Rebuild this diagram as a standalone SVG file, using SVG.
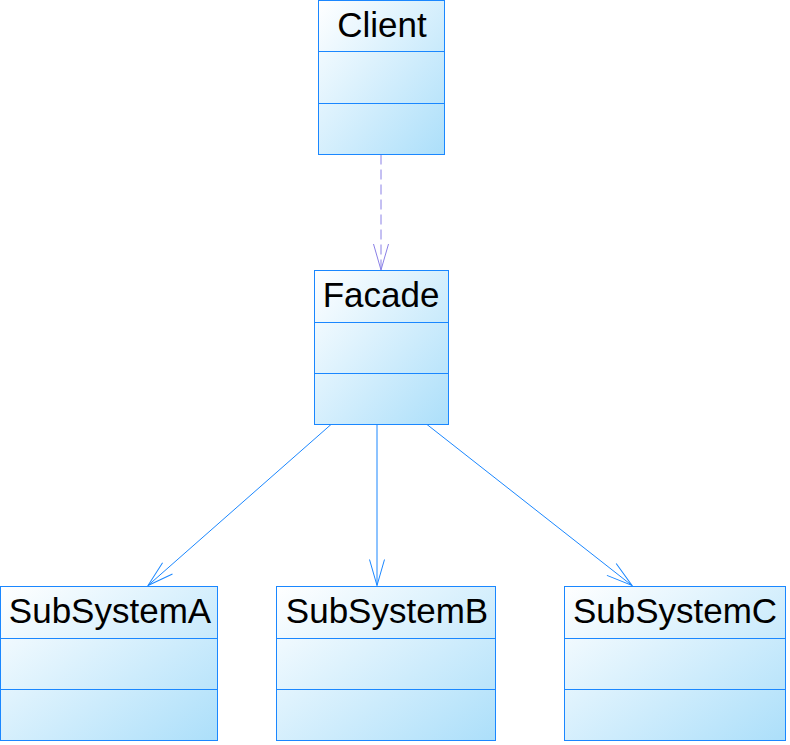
<svg xmlns="http://www.w3.org/2000/svg" width="790" height="745" viewBox="0 0 790 745">
<defs>
<linearGradient id="g" x1="0" y1="0" x2="1" y2="1">
<stop offset="0" stop-color="#FFFFFF"/>
<stop offset="1" stop-color="#ACDFFA"/>
</linearGradient>
<marker id="ah" markerUnits="userSpaceOnUse" markerWidth="40" markerHeight="30" viewBox="-30 -15 40 30" refX="0" refY="0" orient="auto" overflow="visible">
<path d="M-26,-7.5 L0,0 L-26,7.5" fill="none" stroke="#1A87FF" stroke-width="1"/>
</marker>
<marker id="ahd" markerUnits="userSpaceOnUse" markerWidth="40" markerHeight="30" viewBox="-30 -15 40 30" refX="0" refY="0" orient="auto" overflow="visible">
<path d="M-26,-7.5 L0,0 L-26,7.5" fill="none" stroke="#8A80E6" stroke-width="1"/>
</marker>
</defs>
<style>
.box{fill:url(#g);stroke:#1A87FF;stroke-width:1}
.div{stroke:#1A87FF;stroke-width:1}
.t{font-family:"Liberation Sans",Arial,sans-serif;font-size:35px;fill:#000;text-anchor:middle}
.c{fill:none;stroke:#1A87FF;stroke-width:1}
.d{fill:none;stroke:#8A80E6;stroke-width:1;stroke-dasharray:10 5}
</style>
<rect width="790" height="745" fill="#FFFFFF"/>
<g id="connectors">
<line class="d" x1="381" y1="154.5" x2="381" y2="270" marker-end="url(#ahd)"/>
<line class="c" x1="331" y1="424.5" x2="148" y2="585.5" marker-end="url(#ah)"/>
<line class="c" x1="377" y1="424.5" x2="377" y2="585.5" marker-end="url(#ah)"/>
<line class="c" x1="427" y1="424.5" x2="632" y2="585.5" marker-end="url(#ah)"/>
</g>
<g id="Client">
<rect class="box" x="318.5" y="0.5" width="126" height="154"/>
<line class="div" x1="318.5" y1="51.5" x2="444.5" y2="51.5"/>
<line class="div" x1="318.5" y1="103.5" x2="444.5" y2="103.5"/>
<text class="t" x="382" y="37">Client</text>
</g>
<g id="Facade">
<rect class="box" x="314.5" y="270.5" width="134" height="154"/>
<line class="div" x1="314.5" y1="322.5" x2="448.5" y2="322.5"/>
<line class="div" x1="314.5" y1="373.5" x2="448.5" y2="373.5"/>
<text class="t" x="381" y="307">Facade</text>
</g>
<g id="SubSystemA">
<rect class="box" x="0.5" y="586.5" width="217" height="154"/>
<line class="div" x1="0.5" y1="638.5" x2="217.5" y2="638.5"/>
<line class="div" x1="0.5" y1="689.5" x2="217.5" y2="689.5"/>
<text class="t" x="110" y="623">SubSystemA</text>
</g>
<g id="SubSystemB">
<rect class="box" x="276.5" y="586.5" width="219" height="154"/>
<line class="div" x1="276.5" y1="638.5" x2="495.5" y2="638.5"/>
<line class="div" x1="276.5" y1="689.5" x2="495.5" y2="689.5"/>
<text class="t" x="387" y="623">SubSystemB</text>
</g>
<g id="SubSystemC">
<rect class="box" x="564.5" y="586.5" width="221" height="154"/>
<line class="div" x1="564.5" y1="638.5" x2="785.5" y2="638.5"/>
<line class="div" x1="564.5" y1="689.5" x2="785.5" y2="689.5"/>
<text class="t" x="675" y="623">SubSystemC</text>
</g>
</svg>
